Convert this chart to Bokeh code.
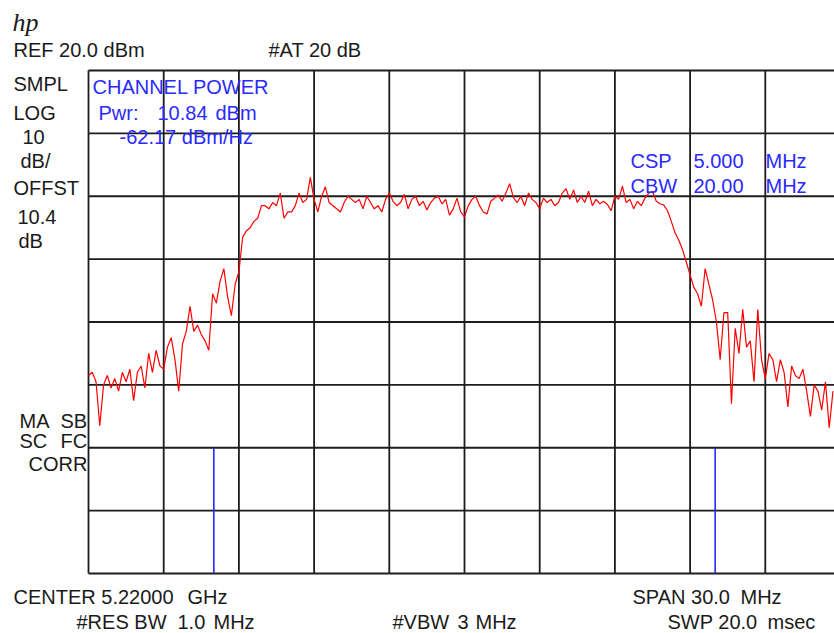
import numpy as np
from bokeh.plotting import figure
from bokeh.models import Range1d, Label
from bokeh.embed import file_html
from bokeh.resources import INLINE

# ---------------- data ----------------
center_mhz = 5220.0
span_mhz = 30.0
ref_level_dbm = 20.0
db_per_div = 10.0
start_mhz = center_mhz - span_mhz / 2
step_mhz = 0.15

trace_dbm = [
    -28.5, -28.0, -29.5, -36.5, -30.0, -28.5, -30.5, -29.0, -31.0, -28.0,
    -29.5, -27.5, -32.5, -28.0, -27.0, -30.5, -25.0, -28.0, -24.5, -27.0,
    -27.5, -24.0, -22.5, -26.0, -31.0, -23.5, -21.5, -17.5, -21.5, -20.5,
    -22.0, -23.0, -24.5, -15.5, -17.0, -13.5, -11.5, -16.0, -19.0, -14.0,
    -12.0, -6.5, -5.5, -5.0, -4.0, -3.5, -1.5, -1.5, -2.0, -1.0,
    -1.5, 0.5, -3.5, -2.5, -2.5, -1.5, 0.5, -1.0, -0.5, 3.0,
    -0.5, -2.5, 0.0, 1.5, -1.0, -1.5, -2.0, -2.5, -1.0, 0.0,
    -0.5, -1.0, -0.5, -2.0, 0.0, -1.0, -2.0, -1.5, -2.5, -0.5,
    0.5, -0.8, -1.5, -1.0, 0.3, -2.0, -0.5, 0.0, -1.5, -0.8,
    -2.2, -1.0, -0.3, 0.0, -1.2, -0.5, -3.0, -2.0, -0.3, -2.5,
    -3.3, -1.5, -0.5, 0.0, -1.5, -2.5, -2.8, -0.8, -0.3, 0.2,
    -0.8, 0.5, 2.0, -0.2, -1.0, 0.0, -1.5, 0.5, -0.5, -1.0,
    -2.0, -0.3, -1.0, -0.5, -1.5, -1.0, 0.5, 1.2, -0.5, 1.0,
    -1.0, 0.0, -1.0, 0.8, -1.5, -0.5, -1.2, -0.8, -1.3, -2.3,
    0.0, -0.5, 1.6, -1.0, -0.5, -2.0, -0.8, -1.5, -0.3, 0.5,
    0.8, -0.8, -1.2, -1.4, -2.3, -4.0, -5.8, -7.0, -8.5, -10.5,
    -12.5, -14.5, -15.5, -17.5, -11.5, -14.0, -16.5, -20.0, -26.0, -18.5,
    -18.5, -33.0, -21.0, -25.0, -18.0, -24.0, -23.0, -29.5, -18.0, -26.0,
    -29.0, -25.0, -26.0, -29.5, -26.0, -28.0, -33.5, -27.0, -28.5, -29.0,
    -27.5, -31.0, -35.0, -30.0, -31.0, -34.0, -29.5, -36.8, -31.0,
]
freq_mhz = start_mhz + step_mhz * np.arange(len(trace_dbm))

marker_mhz = [5210.0, 5230.0]
marker_top_dbm = -40.0

# ---------------- layout ----------------
W, H = 834, 633
LEFT, TOP, BOTTOM = 88, 70, 573
DIV_PX = 75.2
TEXT_DY = 7
n_xdiv, n_ydiv = 10, 8
mhz_per_div = span_mhz / n_xdiv
bottom_dbm = ref_level_dbm - n_ydiv * db_per_div
ydiv_px = (BOTTOM - TOP) / n_ydiv
stop_mhz = start_mhz + span_mhz


def px2x(px):
    return start_mhz + (px - LEFT) / DIV_PX * mhz_per_div


def px2y(py):
    return ref_level_dbm - (py - TOP) / ydiv_px * db_per_div


p = figure(width=W, height=H, output_backend="svg", toolbar_location=None,
           x_range=Range1d(px2x(0), px2x(W)), y_range=Range1d(px2y(H), px2y(0)),
           x_axis_location=None, y_axis_location=None,
           min_border=0, min_border_left=0, min_border_right=0,
           min_border_top=0, min_border_bottom=0)
p.outline_line_color = None
p.background_fill_color = "white"
p.border_fill_color = "white"
p.xgrid.visible = False
p.ygrid.visible = False

# graticule (10 x 8 divisions)
xt = [start_mhz + i * mhz_per_div for i in range(n_xdiv + 1)]
yt = [bottom_dbm + i * db_per_div for i in range(n_ydiv + 1)]
GRID = "#1c1c1c"
p.segment(x0=xt, y0=[bottom_dbm] * len(xt), x1=xt, y1=[ref_level_dbm] * len(xt),
          line_color=GRID, line_width=1.8)
p.segment(x0=[start_mhz] * len(yt), y0=yt, x1=[stop_mhz] * len(yt), y1=yt,
          line_color=GRID, line_width=1.8)

p.line(freq_mhz, trace_dbm, line_color="#ff0000", line_width=1.2)
p.segment(x0=marker_mhz, y0=[marker_top_dbm] * 2, x1=marker_mhz, y1=[bottom_dbm] * 2,
          line_color="#2626ff", line_width=1.6)

FONT = "Liberation Sans"
BLACK = "#1a1a1a"
BLUE = "#2a2aff"

black_labels = [
    ("REF 20.0 dBm", 13, 56), ("#AT 20 dB", 268, 56),
    ("SMPL", 13, 90), ("LOG", 13, 119), ("10", 22, 143), ("dB/", 20, 167),
    ("OFFST", 13, 194), ("10.4", 17, 223), ("dB", 18, 247),
    ("MA", 19, 427), ("SB", 60, 427), ("SC", 19, 447), ("FC", 60, 447),
    ("CORR", 28, 470),
    ("CENTER 5.22000", 13, 603), ("GHz", 187, 603),
    ("#RES BW", 76, 628), ("1.0", 177, 628), ("MHz", 213, 628),
    ("#VBW", 392, 628), ("3", 457, 628), ("MHz", 475, 628),
    ("SPAN 30.0", 632, 603), ("MHz", 740, 603),
    ("SWP 20.0", 667, 628), ("msec", 767, 628),
]
blue_labels = [
    ("CHANNEL POWER", 92, 93),
    ("Pwr:", 98, 119), ("10.84", 157, 119), ("dBm", 215, 119),
    ("-62.17 dBm/Hz", 119, 143),
    ("CSP", 630, 167), ("5.000", 693, 167), ("MHz", 765, 167),
    ("CBW", 630, 192), ("20.00", 693, 192), ("MHz", 765, 192),
]

for txt, xp, yp in black_labels:
    p.add_layout(Label(x=px2x(xp), y=px2y(yp - TEXT_DY), text=txt, text_font=FONT,
                       text_font_size="20px", text_color=BLACK,
                       text_baseline="alphabetic", text_align="left"))
for txt, xp, yp in blue_labels:
    p.add_layout(Label(x=px2x(xp), y=px2y(yp - TEXT_DY), text=txt, text_font=FONT,
                       text_font_size="20px", text_color=BLUE,
                       text_baseline="alphabetic", text_align="left"))

p.add_layout(Label(x=px2x(12), y=px2y(29 - TEXT_DY), text="hp", text_font="Liberation Serif",
                   text_font_style="italic", text_font_size="26px", text_color=BLACK,
                   text_baseline="alphabetic", text_align="left"))

open("out.html", "w").write(file_html(p, INLINE))
